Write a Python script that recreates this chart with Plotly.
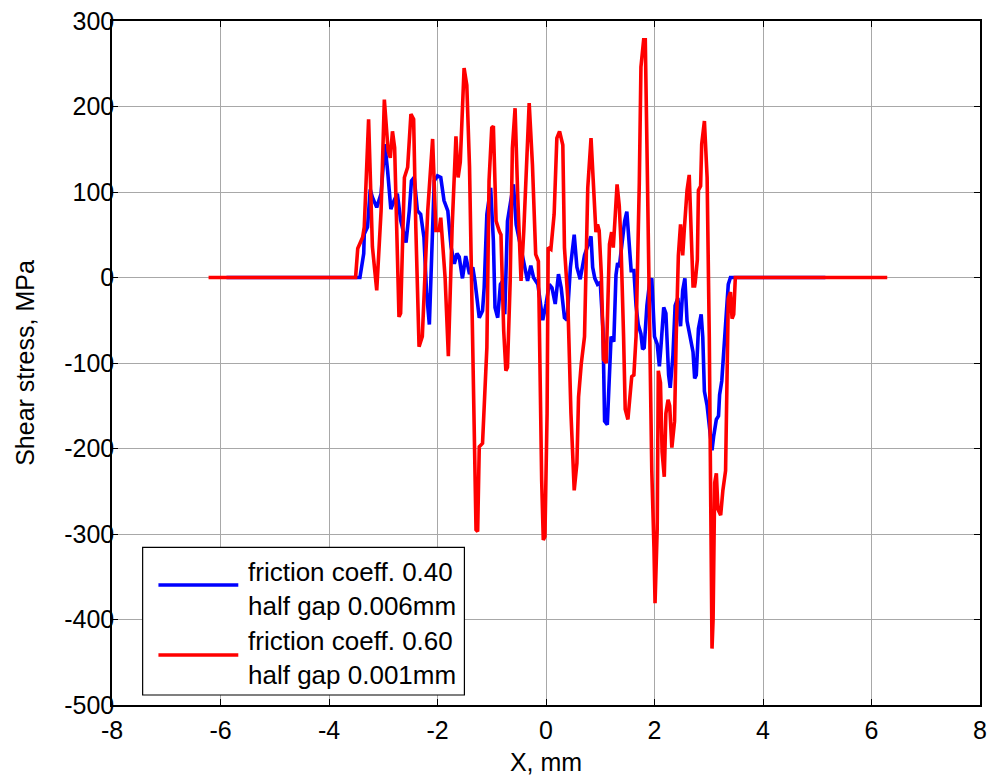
import plotly.graph_objects as go

# Shear stress along the contact, two friction / gap cases
x_mu040 = [-5.89, -3.43, -3.36, -3.35, -3.29, -3.24, -3.20, -3.12, -3.04, -2.97, -2.92,
           -2.86, -2.80, -2.74, -2.68, -2.58, -2.52, -2.48, -2.43, -2.37, -2.31, -2.25,
           -2.20, -2.15, -2.11, -2.06, -2.00, -1.94, -1.88, -1.81, -1.75, -1.69, -1.64,
           -1.60, -1.54, -1.48, -1.41, -1.35, -1.31, -1.26, -1.23, -1.17, -1.14, -1.09,
           -1.02, -0.97, -0.94, -0.89, -0.84, -0.80, -0.76, -0.71, -0.65, -0.60, -0.55,
           -0.49, -0.43, -0.39, -0.34, -0.28, -0.23, -0.15, -0.09, -0.06, 0.00, 0.06,
           0.11, 0.17, 0.23, 0.28, 0.34, 0.39, 0.45, 0.52, 0.57, 0.63, 0.71, 0.78,
           0.83, 0.86, 0.90, 0.95, 1.00, 1.05, 1.08, 1.13, 1.17, 1.20, 1.25, 1.29,
           1.32, 1.35, 1.40, 1.45, 1.49, 1.54, 1.57, 1.62, 1.66, 1.70, 1.75, 1.78,
           1.81, 1.86, 1.91, 1.95, 2.00, 2.05, 2.09, 2.12, 2.17, 2.21, 2.26, 2.29,
           2.34, 2.38, 2.43, 2.48, 2.52, 2.56, 2.60, 2.64, 2.71, 2.74, 2.77, 2.81,
           2.86, 2.89, 2.92, 2.97, 3.01, 3.06, 3.09, 3.14, 3.18, 3.20, 3.24, 3.26,
           3.29, 3.32, 3.36, 3.40, 5.15]
tau_mu040 = [0, 0, 28, 51, 59, 103, 94, 82, 98, 156, 125,
             80, 90, 98, 67, 41, 78, 113, 117, 78, 74, 47,
             -19, -55, 20, 113, 119, 117, 90, 78, 36, 16, 28,
             24, -1, 25, 4, 12, -4, -35, -47, -39, -12, 74,
             105, 43, -35, -47, -8, -4, -43, 66, 89, 109, 62,
             43, 27, 12, -4, 14, 0, -8, -39, -50, -31, -8,
             -12, -31, 4, -12, -47, -50, 12, 50, 12, -2, 26, 39,
             48, 12, -1, -8, -6, -60, -168, -172, -114, -69, -75, 3,
             17, 12, 39, 66, 77, 26, 8, 8, -33, -55, -66, -84,
             -82, -33, -6, -1, -69, -78, -104, -80, -35, -42, -114, -129,
             -91, -33, -24, -57, -15, -1, -51, -64, -87, -118, -114, -60,
             -43, -70, -133, -150, -173, -202, -186, -166, -162, -137, -121, -101,
             -79, -34, -8, 0, 0]

x_mu060 = [-6.22, -3.51, -3.47, -3.38, -3.35, -3.27, -3.20, -3.12, -3.04, -2.98, -2.91,
           -2.87, -2.83, -2.79, -2.71, -2.68, -2.61, -2.55, -2.49, -2.44, -2.40, -2.34,
           -2.28, -2.18, -2.09, -2.03, -1.97, -1.94, -1.86, -1.80, -1.73, -1.66, -1.62,
           -1.58, -1.51, -1.46, -1.41, -1.37, -1.33, -1.29, -1.26, -1.23, -1.17, -1.14,
           -1.09, -1.05, -1.00, -0.97, -0.92, -0.86, -0.83, -0.78, -0.74, -0.71, -0.66,
           -0.62, -0.57, -0.52, -0.46, -0.41, -0.35, -0.31, -0.25, -0.19, -0.14, -0.11,
           -0.08, -0.05, -0.02, 0.02, 0.04, 0.09, 0.15, 0.20, 0.25, 0.31, 0.34, 0.40,
           0.46, 0.52, 0.57, 0.60, 0.65, 0.71, 0.74, 0.77, 0.83, 0.88, 0.92, 0.95,
           0.98, 1.02, 1.06, 1.11, 1.14, 1.17, 1.21, 1.24, 1.27, 1.31, 1.35, 1.38,
           1.43, 1.46, 1.51, 1.55, 1.58, 1.62, 1.66, 1.72, 1.75, 1.80, 1.83, 1.86,
           1.91, 1.95, 1.99, 2.01, 2.05, 2.07, 2.11, 2.14, 2.18, 2.21, 2.25, 2.28,
           2.32, 2.37, 2.40, 2.44, 2.48, 2.52, 2.55, 2.60, 2.64, 2.68, 2.71, 2.74,
           2.75, 2.79, 2.81, 2.85, 2.87, 2.92, 2.97, 3.01, 3.03, 3.06, 3.08, 3.11,
           3.14, 3.17, 3.22, 3.26, 3.31, 3.34, 3.36, 3.40, 3.43, 3.46, 3.49, 6.29]
tau_mu060 = [0, 0, 34, 47, 59, 185, 36, -15, 78, 208, 148,
             140, 171, 152, -46, -42, 117, 129, 191, 185, 59, -81,
             -69, 78, 162, 55, 55, 70, 0, -92, 59, 165, 117,
             135, 245, 225, 130, 0, -150, -295, -297, -198, -194, -159,
             -82, 113, 175, 177, 66, 54, 50, -62, -109, -105, -4,
             151, 198, 93, -4, 54, 151, 204, 132, 27, 19, -120,
             -237, -307, -303, -159, 35, 33, 74, 163, 171, 155, 35, -23,
             -159, -249, -217, -140, -101, -69, 21, 105, 163, 102, 53, 62,
             55, 3, -96, -100, -24, 39, 53, 35, 66, 109, 84, 44,
             -69, -154, -166, -141, -116, -114, -69, 111, 246, 278, 278, 156,
             -69, -226, -316, -381, -294, -109, -123, -204, -233, -159, -143, -150,
             -199, -168, -69, 26, 62, 26, 57, 102, 120, 39, -10, -10,
             -6, 21, 102, 107, 156, 183, 117, -70, -249, -434, -400, -240,
             -229, -271, -278, -249, -226, -70, -25, -17, -48, -43, 0, 0]

legend_lines = ["friction coeff. 0.40<br>half gap 0.006mm",
                "friction coeff. 0.60<br>half gap 0.001mm"]
line_colors = ["#0000ff", "#ff0000"]

x_ticks = [-8, -6, -4, -2, 0, 2, 4, 6, 8]
y_ticks = [300, 200, 100, 0, -100, -200, -300, -400, -500]

FONT = "Arial, Liberation Sans, sans-serif"

fig = go.Figure()
fig.add_trace(go.Scatter(x=x_mu040, y=tau_mu040, mode="lines",
                         line=dict(color=line_colors[0], width=3.6),
                         showlegend=False))
fig.add_trace(go.Scatter(x=x_mu060, y=tau_mu060, mode="lines",
                         line=dict(color=line_colors[1], width=3.6),
                         showlegend=False))

axis_common = dict(showline=True, linecolor="black", linewidth=1.5, mirror="allticks",
                   ticks="inside", ticklen=6, tickwidth=1.2, tickcolor="black",
                   showgrid=True, gridcolor="#a8a8a8", gridwidth=1, zeroline=False,
                   automargin=False,
                   tickfont=dict(family=FONT, size=25, color="black"))

fig.update_xaxes(range=[-8, 8], tickvals=x_ticks, ticktext=[str(v) for v in x_ticks],
                 ticklabelstandoff=2,
                 title=dict(text="X, mm", font=dict(family=FONT, size=25, color="black"),
                            standoff=12),
                 **axis_common)
fig.update_yaxes(range=[-500, 300], tickvals=y_ticks, ticktext=[str(v) for v in y_ticks],
                 ticklabelstandoff=-9,
                 title=dict(text="Shear stress, MPa", font=dict(family=FONT, size=25, color="black"),
                            standoff=22),
                 **axis_common)

# Legend box drawn in paper coordinates
shapes = [dict(type="rect", xref="paper", yref="paper", x0=0.0353, x1=0.406,
               y0=0.0146, y1=0.2305, line=dict(color="black", width=1.2),
               fillcolor="white", layer="above")]
annotations = []
for ly, ty, col, txt in [(0.1754, 0.1695, line_colors[0], legend_lines[0]),
                         (0.0731, 0.0687, line_colors[1], legend_lines[1])]:
    shapes.append(dict(type="line", xref="paper", yref="paper", x0=0.0535, x1=0.1455,
                       y0=ly, y1=ly, line=dict(color=col, width=3.6), layer="above"))
    annotations.append(dict(xref="paper", yref="paper", x=0.1547, y=ty, text=txt,
                            showarrow=False, xanchor="left", yanchor="middle", align="left",
                            font=dict(family=FONT, size=26, color="black")))

fig.update_layout(width=989, height=776, margin=dict(l=112, r=9, t=21, b=71),
                  paper_bgcolor="white", plot_bgcolor="white",
                  shapes=shapes, annotations=annotations, showlegend=False)

fig.write_html("out.html")
